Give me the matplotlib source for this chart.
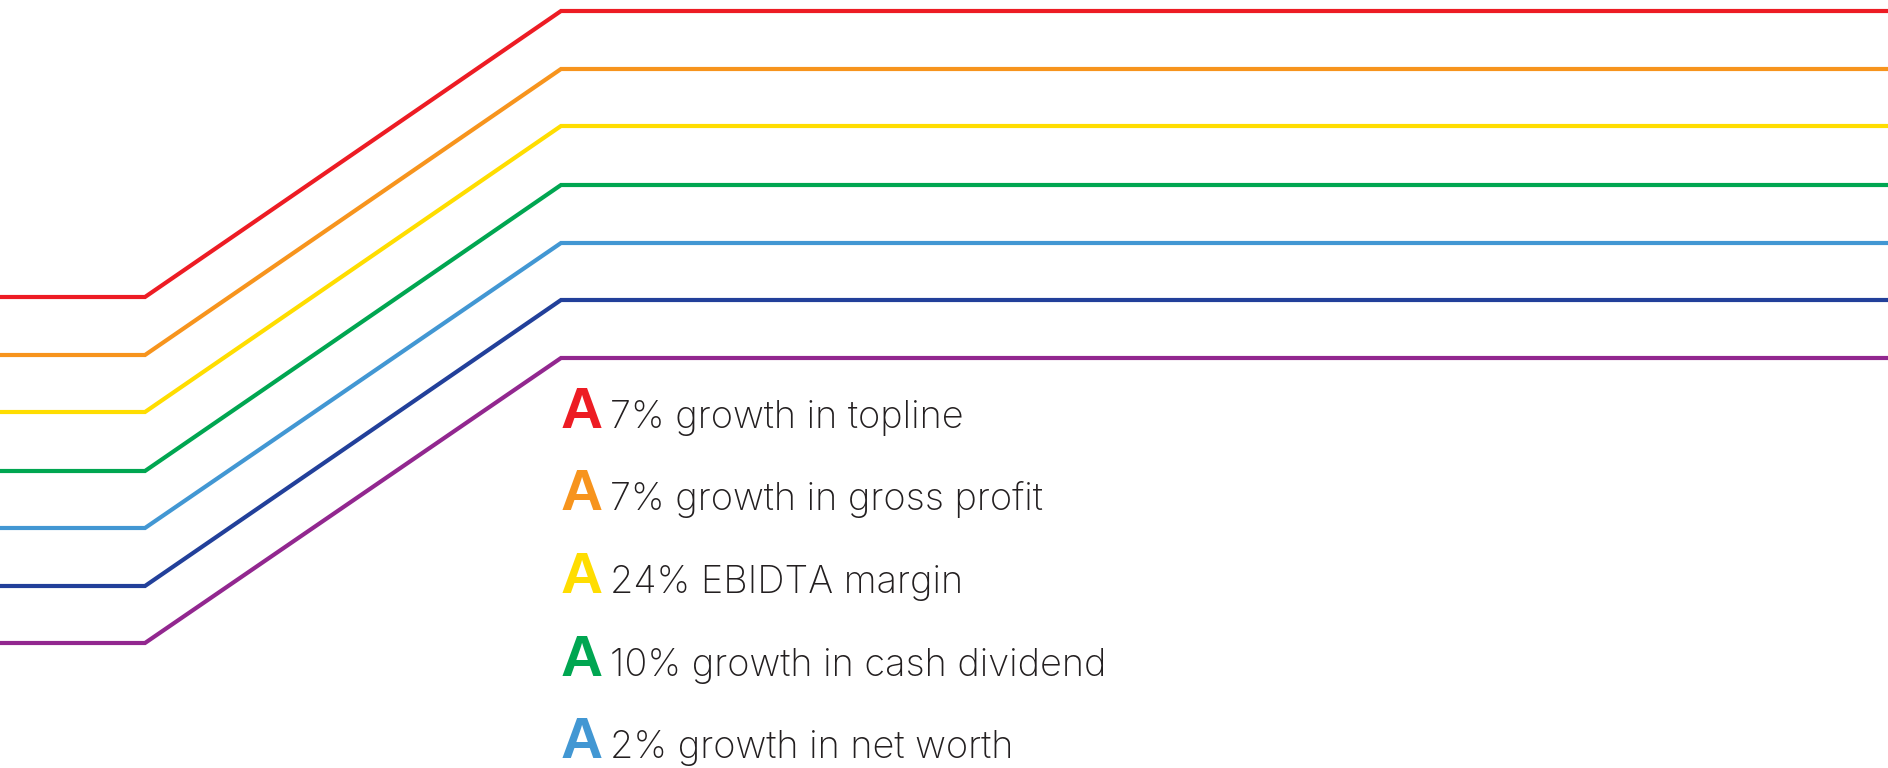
import matplotlib.pyplot as plt

# x positions of the path corners (left edge, lower knee, upper knee, right edge)
x_pts = [0, 145, 561, 1888]

colors = ['#ED1C24', '#F7941D', '#FFDD00', '#00A651', '#4297D3', '#22409A', '#92278F']
# levels measured from the top of the picture
low_levels = [297, 355, 412, 471, 528, 586, 643]
high_levels = [11, 69, 126, 185, 243, 300, 358]

labels = ['7% growth in topline', '7% growth in gross profit', '24% EBIDTA margin',
          '10% growth in cash dividend', '2% growth in net worth']
label_base = [428, 510, 593, 676, 758]

fig = plt.figure(figsize=(18.88, 7.68), dpi=100)
ax = fig.add_axes([0, 0, 1, 1])
ax.set_xlim(0, 1888)
ax.set_ylim(768, 0)
ax.axis('off')

for c, lo, hi in zip(colors, low_levels, high_levels):
    ax.plot(x_pts, [lo, lo, hi, hi], color=c, lw=3,
            solid_joinstyle='miter', solid_capstyle='butt')

for c, lab, yb in zip(colors, labels, label_base):
    ax.text(561, yb, 'A', color=c, fontsize=42, fontweight='bold',
            family='Liberation Sans', va='baseline', ha='left')
    ax.text(610, yb, lab, color='#231F20', fontsize=27.3, fontweight='light',
            family='Inter', va='baseline', ha='left')

fig.savefig('out.png', dpi=100)
